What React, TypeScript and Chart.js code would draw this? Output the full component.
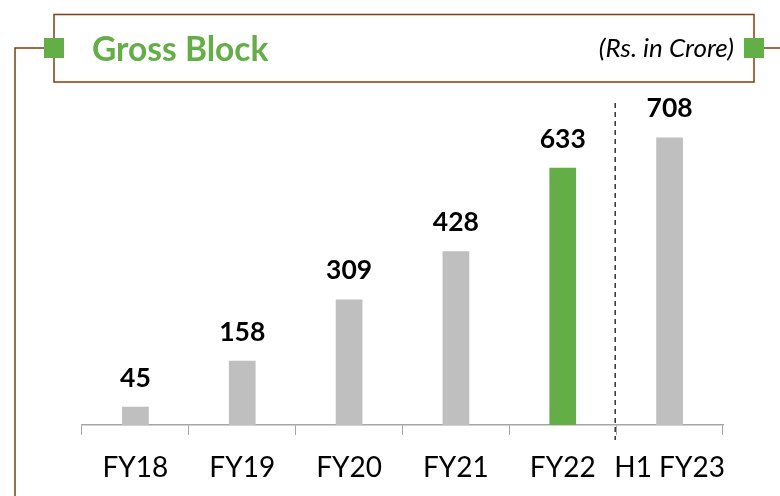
import React, { useEffect, useRef } from "react";
import { Chart, registerables } from "chart.js";

Chart.register(...registerables);

const categories = ["FY18", "FY19", "FY20", "FY21", "FY22", "H1 FY23"];
const grossBlock = [45, 158, 309, 428, 633, 708];
const barColors = ["#BFBFBF", "#BFBFBF", "#BFBFBF", "#BFBFBF", "#63AE46", "#BFBFBF"];
const titleText = "Gross Block";
const unitText = "(Rs. in Crore)";

const FONT = "Lato, 'Open Sans', 'Noto Sans', sans-serif";
const BROWN = "#843C0C";
const GREEN = "#63AE46";

const framePlugin = {
  id: "frame",
  beforeDraw(chart: any) {
    const ctx = chart.ctx;
    ctx.save();
    ctx.fillStyle = "#FFFFFF";
    ctx.fillRect(0, 0, chart.width, chart.height);
    ctx.strokeStyle = BROWN;
    ctx.lineWidth = 1.5;
    ctx.strokeRect(54, 14.5, 700, 67.5);
    ctx.beginPath();
    ctx.moveTo(54, 48);
    ctx.lineTo(15, 48);
    ctx.lineTo(15, 496);
    ctx.moveTo(754, 48);
    ctx.lineTo(780, 48);
    ctx.stroke();
    ctx.fillStyle = GREEN;
    ctx.fillRect(44, 38, 20, 20);
    ctx.fillRect(744, 38, 20, 20);
    ctx.fillStyle = GREEN;
    ctx.font = `bold 33.5px ${FONT}`;
    ctx.textAlign = "left";
    ctx.textBaseline = "alphabetic";
    ctx.fillText(titleText, 92, 61);
    ctx.fillStyle = "#000000";
    ctx.font = `italic 26px ${FONT}`;
    ctx.textAlign = "right";
    ctx.fillText(unitText, 734, 57);
    ctx.restore();
  },
  afterDatasetsDraw(chart: any) {
    const ctx = chart.ctx;
    const meta = chart.getDatasetMeta(0);
    ctx.save();
    ctx.fillStyle = "#000000";
    ctx.font = `bold 26.5px ${FONT}`;
    ctx.textAlign = "center";
    ctx.textBaseline = "alphabetic";
    meta.data.forEach((bar: any, i: number) => {
      ctx.fillText(String(grossBlock[i]), bar.x, bar.y - 20);
    });
    const xs = chart.scales.x;
    const xb = (xs.getPixelForValue(4) + xs.getPixelForValue(5)) / 2 - 1;
    ctx.strokeStyle = "#000000";
    ctx.lineWidth = 1.2;
    ctx.setLineDash([5, 4]);
    ctx.beginPath();
    ctx.moveTo(xb, 103);
    ctx.lineTo(xb, 440);
    ctx.stroke();
    ctx.restore();
  },
};

export default function App() {
  const ref = useRef<HTMLCanvasElement | null>(null);
  useEffect(() => {
    document.body.style.margin = "0";
    if (!ref.current) return;
    const chart = new Chart(ref.current, {
      type: "bar",
      data: {
        labels: categories,
        datasets: [
          {
            data: grossBlock,
            backgroundColor: barColors,
            barPercentage: 0.25,
            categoryPercentage: 1,
          },
        ],
      },
      options: {
        responsive: false,
        animation: false,
        layout: { padding: { top: 100, left: 82, right: 57, bottom: 0 } },
        plugins: { legend: { display: false }, tooltip: { enabled: false } },
        scales: {
          x: {
            afterFit(scale: any) {
              scale.height = 71;
            },
            grid: {
              display: true,
              drawOnChartArea: false,
              drawTicks: true,
              tickLength: 10,
              color: "#A6A6A6",
              offset: true,
            },
            border: { display: true, color: "#A6A6A6", width: 1.5 },
            ticks: {
              color: "#000000",
              font: { family: FONT, size: 28 },
              padding: 16,
              maxRotation: 0,
              autoSkip: false,
            },
          },
          y: {
            display: false,
            min: 0,
            max: 800,
          },
        },
      },
      plugins: [framePlugin],
    });
    return () => chart.destroy();
  }, []);
  return (
    <div style={{ position: "fixed", left: 0, top: 0, width: 780, height: 496 }}>
      <canvas ref={ref} width={780} height={496} />
    </div>
  );
}
